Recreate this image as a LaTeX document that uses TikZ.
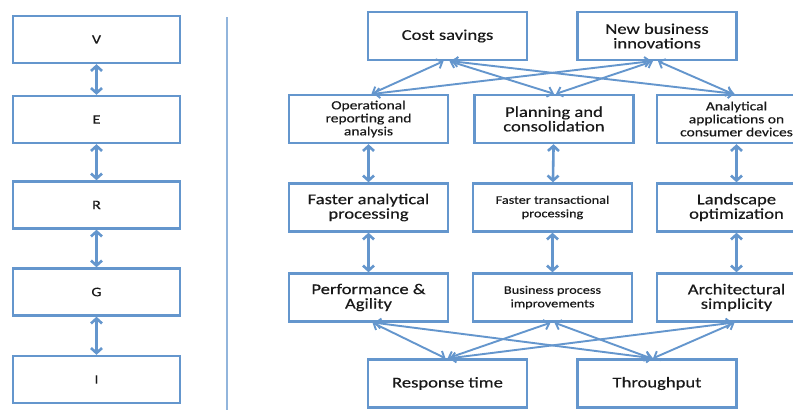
\documentclass[tikz,border=0pt]{standalone}
\usepackage{fontspec}
\setmainfont{Carlito}[FakeStretch=1.24,FakeBold=0.4]
\usetikzlibrary{arrows.meta}
\definecolor{bl}{RGB}{100,150,205}
\definecolor{txt}{RGB}{25,25,25}
\tikzset{
  box/.style={draw=bl, line width=2.4pt, fill=white, minimum width=159pt, minimum height=48pt, align=center, text=txt, inner sep=1pt},
  lbox/.style={box, minimum width=167pt, minimum height=47pt, font=\fontsize{13}{14}\selectfont},
  big/.style={font=\fontsize{15}{14.5}\selectfont},
  mid/.style={font=\fontsize{12.5}{13}\selectfont},
  sml/.style={font=\fontsize{11.5}{13.5}\selectfont},
  varr/.style={draw=bl, line width=2.6pt, {Straight Barb[length=5pt,width=11pt]}-{Straight Barb[length=5pt,width=11pt]}},
  darr/.style={draw=bl, line width=1.9pt, {Straight Barb[length=5pt,width=10pt]}-{Straight Barb[length=5pt,width=10pt]}}
}
\begin{document}
\begin{tikzpicture}[x=1pt,y=-1pt]
\clip (0,0) rectangle (793,410);
\useasboundingbox (0,0) rectangle (793,410);
\fill[white] (0,0) rectangle (793,410);
% left column
\node[lbox] (v) at (96.5,39.5) {V};
\node[lbox] (e) at (96.5,119.5) {E};
\node[lbox] (r) at (96.5,205) {R};
\node[lbox] (g) at (96.5,292) {G};
\node[lbox] (i) at (96.5,379.5) {I};
\draw[varr] (v) -- (e);
\draw[varr] (e) -- (r);
\draw[varr] (r) -- (g);
\draw[varr] (g) -- (i);
% divider
\coordinate (d1) at (227,17);
\coordinate (d2) at (227,410);
\draw[draw=bl!70, line width=1.2pt] (d1) -- (d2);
% right
\node[box,big] (cost) at (447.5,36) {Cost savings};
\node[box,big] (nb) at (657,36) {New business\\innovations};
\node[box,mid] (op) at (368.5,119) {Operational\\reporting and\\analysis};
\node[box,big] (plan) at (554,119) {Planning and\\consolidation};
\node[box,mid] (anal) at (736.5,119) {Analytical\\applications on\\consumer devices};
\node[box,big] (fa) at (368.5,207.5) {Faster analytical\\processing};
\node[box,sml] (ft) at (552.5,207.5) {Faster transactional\\processing};
\node[box,big] (lo) at (736.5,207.5) {Landscape\\optimization};
\node[box,big] (pa) at (368.5,297.5) {Performance \&\\Agility};
\node[box,sml] (bp) at (552.5,297.5) {Business process\\improvements};
\node[box,big] (as) at (736.5,297.5) {Architectural\\simplicity};
\node[box,big] (rt) at (447.5,383.5) {Response time};
\node[box,big] (tp) at (657,383.5) {Throughput};
% vertical
\draw[varr] (op) -- (fa);
\draw[varr] (plan) -- (ft);
\draw[varr] (anal) -- (lo);
\draw[varr] (fa) -- (pa);
\draw[varr] (ft) -- (bp);
\draw[varr] (lo) -- (as);
% top crossings
\draw[darr] ([xshift=-4pt]cost.south) -- ([xshift=3pt]op.north);
\draw[darr] ([xshift=2pt]cost.south) -- (plan.north);
\draw[darr] ([xshift=4pt]cost.south) -- ([xshift=-2pt]anal.north);
\draw[darr] ([xshift=-6pt]nb.south) -- ([xshift=5pt]op.north);
\draw[darr] ([xshift=-4pt]nb.south) -- ([xshift=2pt]plan.north);
\draw[darr] ([xshift=1pt]nb.south) -- ([xshift=-4pt]anal.north);
% bottom crossings
\draw[darr] ([xshift=4pt]pa.south) -- ([xshift=-2pt]rt.north);
\draw[darr] ([xshift=6pt]pa.south) -- ([xshift=-4pt]tp.north);
\draw[darr] ([xshift=-2pt]bp.south) -- (rt.north);
\draw[darr] ([xshift=2pt]bp.south) -- ([xshift=-6pt]tp.north);
\draw[darr] ([xshift=-4pt]as.south) -- ([xshift=2pt]rt.north);
\draw[darr] ([xshift=-2pt]as.south) -- ([xshift=-4pt]tp.north);
\end{tikzpicture}
\end{document}
